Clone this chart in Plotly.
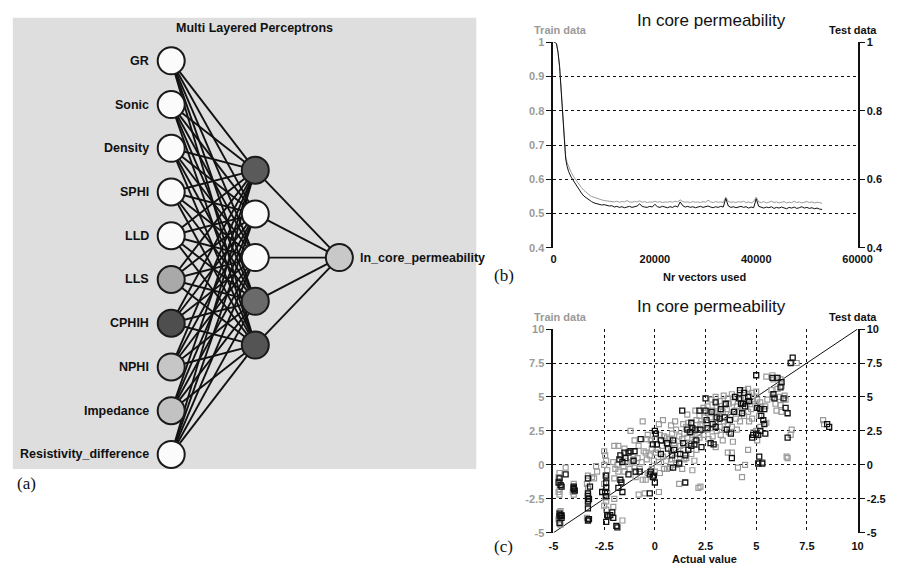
import plotly.graph_objects as go

# ---------------- data ----------------
# (a) network
input_names = ["GR", "Sonic", "Density", "SPHI", "LLD", "LLS", "CPHIH", "NPHI",
               "Impedance", "Resistivity_difference"]
hidden_count = 5
output_name = "ln_core_permeability"
input_shades = ["#fbfbfb", "#fbfbfb", "#fbfbfb", "#fbfbfb", "#fbfbfb", "#a9a9a9",
                "#4e4e4e", "#c6c6c6", "#c2c2c2", "#fbfbfb"]
hidden_shades = ["#5a5a5a", "#fbfbfb", "#fbfbfb", "#6a6a6a", "#545454"]
output_shade = "#c8c8c8"

# (b) learning curves
vectors_used = [0, 300, 600, 900, 1200, 1500, 1800, 2100, 2400, 2700, 3000, 3500, 4000,
                4500, 5000, 5500, 6000, 6500, 7000, 7500, 8000, 8500, 9000, 9500, 10000,
                10500, 11000, 11500, 12000, 12500, 13000, 13500, 14000, 14500, 15000,
                15500, 16000, 16500, 17000, 17500, 18000, 18500, 19000, 19500, 20000,
                20500, 21000, 21500, 22000, 22500, 23000, 23500, 24000, 24500, 25000,
                25500, 26000, 26500, 27000, 27500, 28000, 28500, 29000, 29500, 30000,
                30500, 31000, 31500, 32000, 32500, 33000, 33500, 34000, 34500, 35000,
                35500, 36000, 36500, 37000, 37500, 38000, 38500, 39000, 39500, 40000,
                40500, 41000, 41500, 42000, 42500, 43000, 43500, 44000, 44500, 45000,
                45500, 46000, 46500, 47000, 47500, 48000, 48500, 49000, 49500, 50000,
                50500, 51000, 51500, 52000, 52500, 53000]
train_error = [1.0, 1.0, 0.995, 0.97, 0.93, 0.865, 0.785, 0.71, 0.668, 0.648, 0.635, 0.620,
               0.607, 0.596, 0.585, 0.576, 0.568, 0.561, 0.555, 0.550, 0.547, 0.544, 0.542,
               0.540, 0.538,
               0.537, 0.536, 0.535, 0.534, 0.536, 0.533, 0.535, 0.534, 0.538, 0.534,
               0.533, 0.535, 0.534, 0.537, 0.533, 0.535, 0.532, 0.534, 0.533, 0.536,
               0.533, 0.535, 0.532, 0.534, 0.533, 0.535, 0.533, 0.536, 0.534, 0.540,
               0.535, 0.533, 0.534, 0.532, 0.535, 0.533, 0.534, 0.532, 0.535, 0.533,
               0.539, 0.534, 0.532, 0.535, 0.533, 0.534, 0.532, 0.548, 0.535, 0.533,
               0.534, 0.532, 0.535, 0.533, 0.536, 0.532, 0.534, 0.531, 0.535, 0.548,
               0.534, 0.532, 0.535, 0.531, 0.533, 0.536, 0.532, 0.534, 0.531, 0.533,
               0.535, 0.531, 0.533, 0.532, 0.536, 0.532, 0.534, 0.531, 0.533, 0.535,
               0.532, 0.534, 0.531, 0.533, 0.532, 0.530]
test_error = [1.0, 1.0, 0.995, 0.97, 0.93, 0.865, 0.785, 0.705, 0.66, 0.637, 0.622, 0.606,
              0.594, 0.581, 0.570, 0.560, 0.551, 0.545, 0.539, 0.535, 0.531, 0.529, 0.527,
              0.525, 0.526,
              0.524, 0.522, 0.523, 0.519, 0.521, 0.518, 0.520, 0.517, 0.519, 0.521,
              0.518, 0.520, 0.522, 0.528, 0.521, 0.519, 0.518, 0.521, 0.519, 0.527,
              0.520, 0.518, 0.521, 0.519, 0.517, 0.520, 0.518, 0.522, 0.519, 0.534,
              0.523, 0.519, 0.521, 0.518, 0.520, 0.517, 0.519, 0.521, 0.518, 0.520,
              0.522, 0.519, 0.517, 0.520, 0.518, 0.521, 0.519, 0.544, 0.522, 0.518,
              0.520, 0.517, 0.519, 0.521, 0.518, 0.520, 0.516, 0.519, 0.517, 0.543,
              0.521, 0.518, 0.516, 0.519, 0.517, 0.520, 0.515, 0.518, 0.516, 0.519,
              0.517, 0.514, 0.518, 0.516, 0.519, 0.515, 0.517, 0.520, 0.516, 0.518,
              0.515, 0.517, 0.514, 0.516, 0.513, 0.512]

# (c) predicted vs actual
test_actual = [-4.7, -4.75, -4.65, -4.6, -4.4, -4.7, -4.65, -4.7, -4.6, -4.7, -4.6,
               -4.0, -4.0, -3.95, -4.0,
               -3.3, -3.2, -3.3, -3.3, -3.25, -3.3, -3.3, -3.25, -3.3,
               -2.4, -2.4, -2.4, -2.45, -2.4, -2.35, -2.3, -2.4, -2.6,
               -2.1, -2.2, -2.05, -1.9, -1.85,
               -1.7, -1.65, -1.8, -1.6, -1.7, -1.75, -1.6,
               -1.5, -1.45, -1.3, -1.3, -1.2, -1.0, -1.05, -0.95,
               -0.7, -0.75, -0.2, -0.25, -0.1, -0.1, -0.25,
               0.0, -0.05, 0.0, 0.05, 0.1, 0.3, 0.3, 0.65, 0.6,
               0.9, 0.95, 0.85, 0.9, 1.2, 1.25, 1.35, 1.4, 1.5,
               1.6, 1.65, 1.5, 1.8, 1.85, 1.75, 1.8, 2.0, 2.05, 1.95,
               2.2, 2.25, 2.3, 2.5, 2.5, 2.55, 2.6, 2.8, 2.85, 2.75,
               3.0, 3.05, 2.9, 3.0, 3.2, 3.25, 3.5, 3.45, 3.55, 3.7, 3.75, 3.8,
               3.9, 3.95, 4.2, 4.15, 4.25, 4.3, 4.4, 4.45, 4.35, 4.6, 4.65,
               4.8, 4.85, 5.0, 5.05, 5.0, 5.1, 5.15, 5.1,
               5.2, 5.25, 5.2, 5.3, 5.4, 5.35, 5.4, 5.45,
               5.8, 5.85, 5.9, 6.05, 6.2, 6.25, 6.35, 6.45, 6.55, 6.55,
               6.8, 6.7, 8.5, 8.6]
test_predicted = [-1.0, -1.3, -1.5, -1.6, -0.7, -3.6, -3.7, -3.8, -3.9, -4.3, -3.75,
                  -1.7, -1.8, -1.9, -1.6,
                  -1.0, -1.6, -2.1, -2.3, -2.5, -2.7, -3.2, -4.0, -4.1,
                  -0.8, -1.3, -1.7, -2.0, -2.3, -3.7, -3.8, -4.2, -2.0,
                  -3.5, -3.7, -3.9, -4.5, -4.6,
                  -1.1, -1.3, -1.7, -2.0, 0.7, 0.4, 0.2,
                  0.9, 0.5, -0.7, 0.9, 1.0, 1.0, 0.3, -0.5,
                  1.9, -0.5, -0.5, -0.7, -0.9, 1.5, -2.1,
                  -1.3, -0.8, 2.5, 2.3, 1.5, 0.8, 1.8, 1.2, 1.6,
                  1.8, 1.1, 0.7, -0.2, 0.1, 0.8, 4.0, 1.6, 0.7,
                  2.6, 1.1, -1.3, 3.1, 2.7, 2.4, 1.4, 2.6, 1.8, 1.5,
                  4.0, 2.6, 1.3, 4.0, 4.9, 3.3, 2.7, 3.9, 3.0, 1.6,
                  4.6, 3.5, 1.5, 2.8, 3.4, 4.1, 4.5, 3.5, 2.6, 3.3, 2.3, 0.5,
                  3.9, 5.0, 5.5, 4.9, 4.5, 3.8, 5.3, 4.3, 4.5, 5.0, 4.7,
                  2.0, 2.2, 6.6, 4.2, 2.3, 2.2, 0.6, 0.1,
                  4.1, 3.6, 2.5, 0.1, 4.1, 3.3, 3.0, 2.3,
                  6.4, 5.2, 4.9, 6.4, 5.7, 6.1, 4.9, 4.2, 3.8, 2.0,
                  7.9, 7.5, 3.0, 2.8]

train_actual = [-4.4, -4.7, -4.75, -4.7, -4.65, -4.7, -4.75, -4.7, -4.65, -4.7, -4.6, -4.75, -4.7, -4.65,
                -4.0, -4.0, -4.05, -4.0, -3.95,
                -3.3, -3.35, -3.3, -3.3, -3.25, -3.3, -3.35, -3.3,
                -3.1, -3.0, -2.9, -2.85,
                -2.5, -2.45, -2.4, -2.5, -2.35, -2.45, -2.4, -2.5, -2.4, -2.35, -2.45, -2.4, -2.5, -2.4,
                -2.0, -2.05, -1.95, -2.0, -2.0, -2.05, -1.8, -1.85, -1.8, -1.6,
                -1.5, -1.45, -1.55, -1.5, -1.2, -1.15, -1.25, -1.0, -1.05, -0.95, -1.0,
                -0.8, -0.85, -0.75, -0.8, -0.6, -0.55, -0.65, -0.6, -0.5,
                -0.4, -0.35, -0.45, -0.4, -0.35, -0.45, -0.2, -0.15, -0.25, -0.2, -0.15,
                0.0, 0.05, -0.05, 0.0, 0.2, 0.2, 0.25, 0.15, 0.2, 0.25,
                0.4, 0.45, 0.35, 0.4, 0.45, 0.6, 0.65, 0.55, 0.6,
                0.8, 0.85, 0.75, 0.8, 0.85, 0.75, 1.0, 1.05, 0.95, 1.0, 1.05,
                1.2, 1.25, 1.15, 1.2, 1.2, 1.4, 1.45, 1.35, 1.4, 1.45, 1.35,
                1.6, 1.65, 1.55, 1.6, 1.65, 1.55, 1.8, 1.85, 1.75, 1.8, 1.85,
                2.0, 2.05, 1.95, 2.0, 2.05, 1.95, 2.2, 2.25, 2.15, 2.2, 2.15, 2.25,
                2.4, 2.45, 2.35, 2.4, 2.6, 2.65, 2.55, 2.6, 2.65,
                2.8, 2.85, 2.75, 2.8, 2.85, 3.0, 3.05, 2.95, 3.0, 3.05, 3.0,
                3.2, 3.25, 3.15, 3.2, 3.25, 3.4, 3.45, 3.35, 3.4, 3.45, 3.35,
                3.6, 3.65, 3.55, 3.6, 3.65, 3.6, 3.8, 3.85, 3.75, 3.8, 3.85, 3.8,
                4.0, 4.05, 3.95, 4.0, 4.05, 4.2, 4.25, 4.15, 4.2, 4.1, 4.3,
                4.4, 4.45, 4.35, 4.4, 4.45, 4.6, 4.65, 4.55, 4.6, 4.65, 4.6,
                4.8, 4.85, 4.75, 4.8, 4.85, 5.0, 5.05, 4.95, 5.0, 5.05, 5.3,
                5.2, 5.25, 5.15, 5.2, 5.5, 5.55, 5.45, 5.5,
                5.8, 5.85, 5.75, 5.8, 6.0, 6.05, 5.95, 6.0,
                6.2, 6.25, 6.15, 6.2, 6.25, 6.4, 6.45, 6.5, 6.55, 6.7, 6.75, 7.0, 8.3, 8.35]
train_predicted = [-0.2, -0.6, -0.9, -1.2, -1.5, -1.8, -2.0, -2.2, -3.4, -3.5, -3.7, -4.0, -4.2, -4.4,
                   -1.4, -1.6, -2.0, -2.2, -1.9,
                   -0.8, -1.4, -1.7, -2.2, -2.6, -2.9, -3.9, -4.0,
                   -0.9, -1.0, -0.1, -0.5,
                   1.0, 0.7, 0.3, 0.0, -0.4, -0.8, -1.0, -1.4, -1.7, -2.1, -2.4, -2.7, -3.0, -3.3,
                   1.4, 0.2, -0.3, -1.0, -2.5, -3.1, 1.4, 0.0, -0.5, -4.1,
                   1.2, 0.3, -0.1, -0.5, 2.5, 0.2, -0.3, 1.8, 0.4, -0.9, -0.2,
                   1.4, 0.5, -0.3, -2.2, 3.2, 1.0, 0.2, -1.1, -2.1,
                   1.9, 2.2, 0.9, 0.4, -0.6, -1.1, 1.8, 1.2, 0.7, -0.6, -0.3,
                   1.9, 0.9, 0.3, -0.5, -2.0, 3.0, 2.2, 1.1, 0.2, -0.6,
                   3.3, 2.1, 1.4, 0.6, -0.3, 2.0, 1.5, 0.3, -0.3,
                   2.9, 2.3, 1.9, 1.0, 0.4, -0.2, 3.2, 2.6, 1.6, 0.5, 0.0,
                   2.1, 1.4, 0.8, 0.2, -1.4, 3.0, 2.3, 1.9, 1.1, 0.4, -0.3,
                   3.7, 3.1, 2.8, 2.0, 1.2, 0.5, 3.0, 2.2, 1.6, 0.8, -0.4,
                   4.0, 3.3, 2.5, 1.9, 1.1, 0.3, 3.6, 3.0, 2.6, 2.0, -1.7, -1.6,
                   4.2, 3.5, 2.9, 2.2, 4.3, 3.8, 3.1, 2.6, 1.9,
                   4.8, 4.0, 3.5, 2.7, 2.1, 5.0, 4.3, 3.8, 3.1, 2.5, 1.3,
                   4.7, 4.0, 3.6, 2.8, 2.2, 5.1, 4.4, 3.9, 3.2, 2.6, 1.8,
                   4.9, 4.5, 4.1, 3.0, 2.4, 0.9, 5.2, 4.6, 3.7, 2.8, 1.7, 0.9,
                   5.0, 4.3, 4.0, 3.4, 2.6, 5.3, 4.8, 3.9, 3.2, -0.2, -0.9,
                   5.5, 4.9, 4.2, 3.6, 0.0, 5.6, 5.1, 4.6, 3.9, 3.2, 1.1,
                   5.3, 4.7, 4.1, 3.4, 2.4, 5.4, 4.8, 4.5, 2.5, 1.8, 0.2,
                   4.6, 4.3, 3.6, 2.8, 6.5, 4.8, 4.3, 3.1,
                   6.6, 6.3, 5.5, 5.0, 6.4, 5.6, 4.5, 4.0,
                   6.3, 5.8, 5.0, 4.4, 3.9, 5.1, 4.8, 0.6, 0.5, 2.2, 2.6, 7.5, 3.3, 3.0]

identity_line = [-5, 10]

b_left_ticks = [0.4, 0.5, 0.6, 0.7, 0.8, 0.9, 1.0]
b_left_labels = ["0.4", "0.5", "0.6", "0.7", "0.8", "0.9", "1"]
b_right_ticks = [0.4, 0.6, 0.8, 1.0]
b_right_labels = ["0.4", "0.6", "0.8", "1"]
b_x_ticks = [0, 20000, 40000, 60000]
b_x_labels = ["0", "20000", "40000", "60000"]
c_ticks = [-5, -2.5, 0, 2.5, 5, 7.5, 10]
c_labels = ["-5", "-2.5", "0", "2.5", "5", "7.5", "10"]

# ---------------- layout helpers ----------------
W, H = 897, 572
def PX(p):
    return p / W
def PY(p):
    return 1 - p / H

GRAY = "#9a9a9a"
BLACK = "#111111"
SANS = "Liberation Sans, Arial, sans-serif"
SERIF = "Liberation Serif, Times New Roman, serif"

fig = go.Figure()

# ---------- (a) network ----------
n_in = len(input_names)
in_y = list(range(n_in))
hid_y = [(n_in - hidden_count) / 2 + j for j in range(hidden_count)]
out_y = [(n_in - 1) / 2]

ex, ey = [], []
for yi in in_y:
    for yh in hid_y:
        ex += [0, 1, None]
        ey += [yi, yh, None]
for yh in hid_y:
    ex += [1, 2, None]
    ey += [yh, out_y[0], None]

fig.add_trace(go.Scatter(x=ex, y=ey, mode="lines", line=dict(color=BLACK, width=1.9),
                         xaxis="x5", yaxis="y5", hoverinfo="skip", showlegend=False))
node_x = [0] * n_in + [1] * hidden_count + [2]
node_y = in_y + hid_y + out_y
node_c = input_shades + hidden_shades + [output_shade]
fig.add_trace(go.Scatter(x=node_x, y=node_y, mode="markers",
                         marker=dict(size=27, color=node_c, line=dict(color="#1a1a1a", width=2)),
                         xaxis="x5", yaxis="y5", showlegend=False))

annotations = []
for name, yi in zip(input_names, in_y):
    annotations.append(dict(x=0, y=yi, xref="x5", yref="y5", text=name, showarrow=False,
                            xanchor="right", yanchor="middle", xshift=-20,
                            font=dict(family=SANS, size=12.5, color="#111", weight="bold")))
annotations.append(dict(x=2, y=out_y[0], xref="x5", yref="y5", text=output_name, showarrow=False,
                        xanchor="left", yanchor="middle", xshift=19,
                        font=dict(family=SANS, size=12.5, color="#111", weight="bold")))

# ---------- (b) ----------
fig.add_trace(go.Scatter(x=vectors_used, y=train_error, mode="lines",
                         line=dict(color=GRAY, width=1), xaxis="x", yaxis="y", showlegend=False))
fig.add_trace(go.Scatter(x=vectors_used, y=test_error, mode="lines",
                         line=dict(color=BLACK, width=1), xaxis="x", yaxis="y2", showlegend=False))

# ---------- (c) ----------
fig.add_trace(go.Scatter(x=identity_line, y=identity_line, mode="lines",
                         line=dict(color=BLACK, width=1), xaxis="x3", yaxis="y3", showlegend=False))
fig.add_trace(go.Scatter(x=train_actual, y=train_predicted, mode="markers",
                         marker=dict(symbol="square-open", size=5, color=GRAY, line=dict(width=1.2)),
                         xaxis="x3", yaxis="y3", showlegend=False))
fig.add_trace(go.Scatter(x=test_actual, y=test_predicted, mode="markers",
                         marker=dict(symbol="square-open", size=5, color=BLACK, line=dict(width=1.3)),
                         xaxis="x3", yaxis="y4", showlegend=False))

tickfont_gray = dict(family=SANS, size=11, color=GRAY, weight="bold")
tickfont_black = dict(family=SANS, size=11, color=BLACK, weight="bold")

xdom = [PX(561), PX(872)]
common_left = dict(showline=True, linecolor=BLACK, linewidth=2, ticks="outside", ticklen=5,
                   tickcolor=BLACK, tickwidth=1, tickfont=tickfont_gray, zeroline=False,
                   showgrid=True, gridcolor=BLACK, griddash="dot", gridwidth=1, fixedrange=True)
common_right = dict(showline=True, linecolor=BLACK, linewidth=2, ticks="outside", ticklen=5,
                    tickcolor=BLACK, tickwidth=1, tickfont=tickfont_black, zeroline=False,
                    showgrid=False, side="right", fixedrange=True)

fig.update_layout(
    width=W, height=H, autosize=False, margin=dict(l=0, r=0, t=0, b=0, pad=0),
    paper_bgcolor="white", plot_bgcolor="rgba(0,0,0,0)", showlegend=False,
    xaxis=dict(domain=xdom, range=[0, 60000], tickvals=b_x_ticks, ticktext=b_x_labels,
               tickfont=tickfont_black, showgrid=False, zeroline=False, showline=False,
               ticks="", ticklabelstandoff=3, anchor="y", fixedrange=True),
    yaxis=dict(domain=[PY(247), PY(37)], range=[0.4, 1.0], tickvals=b_left_ticks,
               ticktext=b_left_labels, anchor="x", **common_left),
    yaxis2=dict(range=[0.4, 1.0], tickvals=b_right_ticks, ticktext=b_right_labels,
                overlaying="y", anchor="x", **common_right),
    xaxis3=dict(domain=xdom, range=[-5, 10], tickvals=c_ticks, ticktext=c_labels,
                tickfont=tickfont_black, showgrid=True, gridcolor=BLACK, griddash="dot",
                gridwidth=1, zeroline=False, showline=False, ticks="", ticklabelstandoff=5,
                anchor="y3", fixedrange=True),
    yaxis3=dict(domain=[PY(538), PY(330)], range=[-5, 10], tickvals=c_ticks,
                ticktext=c_labels, anchor="x3", **common_left),
    yaxis4=dict(range=[-5, 10], tickvals=c_ticks, ticktext=c_labels,
                overlaying="y3", anchor="x3", **common_right),
    xaxis5=dict(domain=[0, PX(490)], range=[(0 - 170) / 86, (490 - 170) / 86], visible=False,
                anchor="y5", fixedrange=True),
    yaxis5=dict(domain=[0, 1], range=[(572 - 56) / 44.67, (0 - 56) / 44.67], visible=False,
                anchor="x5", fixedrange=True),
)

# background of panel (a)
fig.add_shape(type="rect", xref="paper", yref="paper", x0=PX(8), x1=PX(482), y0=PY(473), y1=PY(12),
              fillcolor="#dedede", line=dict(width=0), layer="below")

def txt(x, y, s, font, xanchor="center"):
    annotations.append(dict(x=PX(x), y=PY(y), xref="paper", yref="paper", text=s, showarrow=False,
                            xanchor=xanchor, yanchor="middle", font=font))

title_font = dict(family=SANS, size=17, color="#111")
lab_gray = dict(family=SANS, size=11, color=GRAY, weight="bold")
lab_black = dict(family=SANS, size=11, color=BLACK, weight="bold")
serif_font = dict(family=SERIF, size=17, color="#111")

txt(255, 22, "Multi Layered Perceptrons", dict(family=SANS, size=12.5, color="#111", weight="bold"))

txt(723, 15, "In core permeability", title_font)
txt(568, 25, "Train data", lab_gray)
txt(867, 25, "Test data", lab_black)
txt(715, 277, "Nr vectors used", lab_black)
txt(510, 275, "(b)", serif_font)

txt(723, 307, "In core permeability", title_font)
txt(568, 318, "Train data", lab_gray)
txt(867, 318, "Test data", lab_black)
txt(715, 565, "Actual value", lab_black)
txt(510, 552, "(c)", serif_font)

txt(22, 488, "(a)", serif_font)

fig.update_layout(annotations=annotations)
fig.write_html("out.html", config={"responsive": False, "displayModeBar": False},
               post_script="document.body.style.margin='0';document.body.style.overflow='hidden';")
